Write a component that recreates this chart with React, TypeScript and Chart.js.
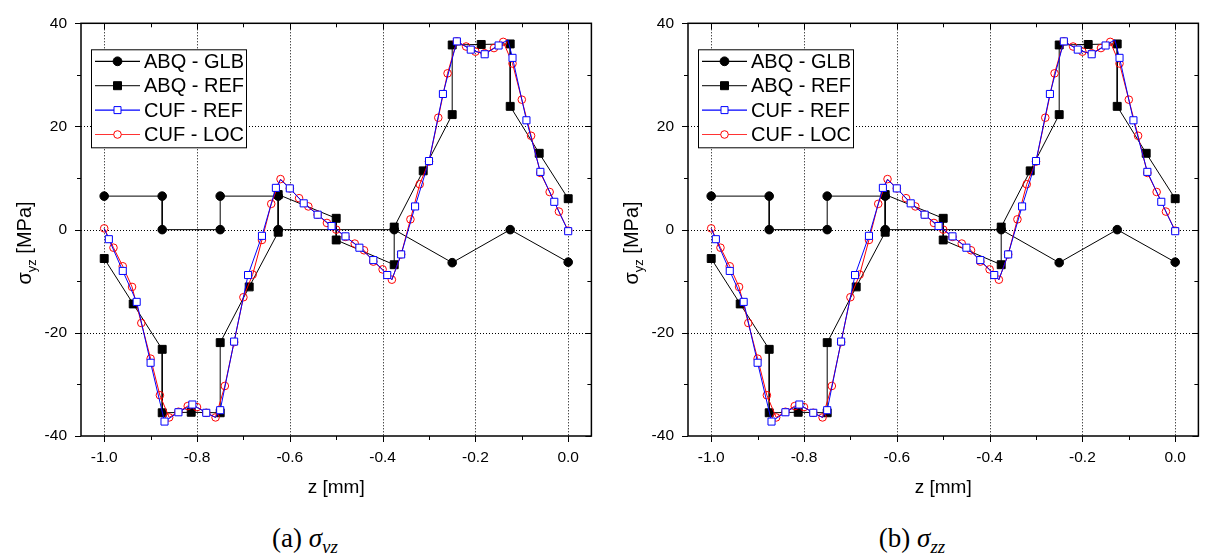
import React, { useEffect, useRef } from "react";
import { Chart, registerables } from "chart.js";

Chart.register(...registerables);

// ---------------- data ----------------
const xTicks = [-1.0, -0.8, -0.6, -0.4, -0.2, 0.0];
const xMinorTicks = [-0.9, -0.7, -0.5, -0.3, -0.1];
const yTicks = [-40, -20, 0, 20, 40];
const yMinorTicks = [-30, -10, 10, 30];

// ABQ - GLB
const zGlb = [-1.0, -0.875, -0.875, -0.75, -0.75, -0.625, -0.625, -0.375, -0.25, -0.125, 0.0];
const abqGlb = [6.5, 6.5, 0, 0, 6.5, 6.5, 0, 0, -6.4, 0, -6.3];

// ABQ - REF
const zRef = [-1.0, -0.9375, -0.875, -0.875, -0.8125, -0.75, -0.75, -0.6875, -0.625, -0.625, -0.5, -0.5,
  -0.375, -0.375, -0.3125, -0.25, -0.25, -0.1875, -0.125, -0.125, -0.0625, 0.0];
const abqRef = [-5.6, -14.4, -23.2, -35.5, -35.4, -35.5, -21.9, -11.1, -0.5, 6.8, 2.2, -2.0,
  -6.8, 0.5, 11.4, 22.3, 35.8, 35.9, 36.0, 23.9, 14.8, 6.0];

// CUF - REF (marked points)
const zCufRef = [-0.99, -0.96, -0.93, -0.9, -0.87, -0.84, -0.81, -0.78, -0.75, -0.72, -0.69, -0.66,
  -0.63, -0.6, -0.57, -0.54, -0.51, -0.48, -0.45, -0.42, -0.39, -0.36, -0.33, -0.3, -0.27, -0.24,
  -0.21, -0.18, -0.15, -0.12, -0.09, -0.06, -0.03, 0.0];
const cufRef = [-1.85, -8.0, -14.0, -25.8, -37.2, -35.4, -33.9, -35.5, -35.0, -21.7, -8.8, -1.2,
  8.1, 8.0, 5.1, 2.9, 0.7, -1.3, -3.5, -5.9, -8.8, -4.8, 4.5, 13.3, 26.3, 36.5,
  34.9, 34.0, 35.7, 33.3, 21.2, 11.2, 5.4, -0.3];
// CUF - REF (unmarked vertices of the same curve)
const zCufRefHidden = [-1.0, -0.76, -0.62, -0.38, -0.13];
const cufRefHidden = [0.2, -36.4, 9.7, -9.7, 36.8];

// CUF - LOC
const zCufLoc = [-1.0, -0.98, -0.96, -0.94, -0.92, -0.9, -0.88, -0.86, -0.84, -0.82, -0.8, -0.78, -0.76,
  -0.74, -0.72, -0.7, -0.68, -0.66, -0.64, -0.62, -0.6, -0.58, -0.56, -0.54, -0.52, -0.5, -0.48,
  -0.46, -0.44, -0.42, -0.4, -0.38, -0.36, -0.34, -0.32, -0.3, -0.28, -0.26, -0.24, -0.22, -0.2,
  -0.18, -0.16, -0.14, -0.12, -0.1, -0.08, -0.06, -0.04, -0.02, 0.0];
const cufLoc = [0.25, -3.5, -7.1, -11.1, -18.1, -25.0, -32.1, -36.4, -35.3, -34.2, -34.4, -35.5, -36.4,
  -30.3, -21.8, -13.1, -8.7, -2.0, 5.0, 9.8, 8.0, 6.1, 4.5, 2.9, 1.3, 0.0, -1.4,
  -2.7, -4.0, -6.2, -7.7, -9.7, -4.8, 2.0, 8.8, 13.2, 21.7, 30.3, 36.5, 35.5, 34.5,
  34.2, 35.2, 36.4, 32.2, 25.2, 18.2, 11.0, 7.3, 3.5, -0.2];

// ---------------- styling ----------------
const SANS = "'Liberation Sans', Arial, sans-serif";
const SERIF = "'Liberation Serif', 'Times New Roman', serif";

const zip = (xs: number[], ys: number[]) => xs.map((x, i) => ({ x, y: ys[i] }));

function blueData() {
  const pts = [
    ...zCufRef.map((x, i) => ({ x, y: cufRef[i], m: true })),
    ...zCufRefHidden.map((x, i) => ({ x, y: cufRefHidden[i], m: false })),
  ];
  pts.sort((a, b) => a.x - b.x);
  return pts;
}

const legendItems = [
  { label: "ABQ - GLB", line: "#000", shape: "circle", fill: "#000", stroke: "#000", r: 4.4 },
  { label: "ABQ - REF", line: "#333", shape: "square", fill: "#000", stroke: "#000", r: 4 },
  { label: "CUF - REF", line: "#0000ff", shape: "square", fill: "#fff", stroke: "#0000ff", r: 3.5 },
  { label: "CUF - LOC", line: "#ff3333", shape: "circle", fill: "#fff", stroke: "#ff0000", r: 3.8 },
];

function drawMarker(ctx: CanvasRenderingContext2D, shape: string, x: number, y: number, r: number, fill: string, stroke: string) {
  ctx.save();
  ctx.beginPath();
  if (shape === "circle") ctx.arc(x, y, r, 0, Math.PI * 2);
  else ctx.rect(x - r, y - r, 2 * r, 2 * r);
  ctx.fillStyle = fill;
  ctx.fill();
  ctx.lineWidth = 1;
  ctx.strokeStyle = stroke;
  ctx.stroke();
  ctx.restore();
}

const framePlugin = {
  id: "frameDecor",
  beforeDatasetsDraw(chart: any) {
    const { ctx, chartArea: a, scales } = chart;
    ctx.save();
    ctx.strokeStyle = "#000";
    ctx.lineWidth = 1;
    ctx.setLineDash([1, 2]);
    xTicks.forEach((v) => {
      const px = Math.round(scales.x.getPixelForValue(v)) + 0.5;
      ctx.beginPath();
      ctx.moveTo(px, a.top);
      ctx.lineTo(px, a.bottom);
      ctx.stroke();
    });
    yTicks.forEach((v) => {
      if (v === 40 || v === -40) return;
      const py = Math.round(scales.y.getPixelForValue(v)) + 0.5;
      ctx.beginPath();
      ctx.moveTo(a.left, py);
      ctx.lineTo(a.right, py);
      ctx.stroke();
    });
    ctx.restore();
  },
  afterDatasetsDraw(chart: any) {
    const { ctx, chartArea: a, scales } = chart;
    ctx.save();
    // frame
    ctx.strokeStyle = "#000";
    ctx.lineWidth = 1.5;
    ctx.setLineDash([]);
    ctx.strokeRect(a.left, a.top, a.right - a.left, a.bottom - a.top);
    // ticks
    ctx.lineWidth = 1;
    const majL = 6, minL = 4;
    const xt = (v: number, len: number) => {
      const px = Math.round(scales.x.getPixelForValue(v)) + 0.5;
      ctx.beginPath();
      ctx.moveTo(px, a.bottom); ctx.lineTo(px, a.bottom + len);
      ctx.moveTo(px, a.top); ctx.lineTo(px, a.top + len);
      ctx.stroke();
    };
    const yt = (v: number, len: number) => {
      const py = Math.round(scales.y.getPixelForValue(v)) + 0.5;
      ctx.beginPath();
      ctx.moveTo(a.left, py); ctx.lineTo(a.left - len, py);
      ctx.moveTo(a.right, py); ctx.lineTo(a.right - len, py);
      ctx.stroke();
    };
    xTicks.forEach((v) => xt(v, majL));
    xMinorTicks.forEach((v) => xt(v, minL));
    yTicks.forEach((v) => yt(v, majL));
    yMinorTicks.forEach((v) => yt(v, minL));

    // legend
    const bx = a.left + 10, by = a.top + 26, bw = 155, bh = 98;
    ctx.fillStyle = "#fff";
    ctx.fillRect(bx, by, bw, bh);
    ctx.lineWidth = 1;
    ctx.strokeStyle = "#000";
    ctx.strokeRect(bx + 0.5, by + 0.5, bw, bh);
    legendItems.forEach((it, i) => {
      const cy = by + 12 + i * 24.4;
      ctx.beginPath();
      ctx.strokeStyle = it.line;
      ctx.lineWidth = 1.2;
      ctx.moveTo(bx + 4, cy);
      ctx.lineTo(bx + 49, cy);
      ctx.stroke();
      drawMarker(ctx, it.shape, bx + 26.5, cy, it.r, it.fill, it.stroke);
      ctx.fillStyle = "#000";
      ctx.font = `20px ${SANS}`;
      ctx.textBaseline = "middle";
      ctx.textAlign = "left";
      ctx.fillText(it.label, bx + 53, cy + 1);
    });

    // x title
    ctx.fillStyle = "#000";
    ctx.font = `19px ${SANS}`;
    ctx.textAlign = "center";
    ctx.textBaseline = "middle";
    ctx.fillText("z [mm]", (a.left + a.right) / 2, 488);

    // y title with subscript
    ctx.save();
    ctx.translate(31, 243);
    ctx.rotate(-Math.PI / 2);
    ctx.textAlign = "left";
    ctx.textBaseline = "alphabetic";
    ctx.font = `20px ${SANS}`;
    const w1 = ctx.measureText("σ").width;
    const w3 = ctx.measureText(" [MPa]").width;
    ctx.font = `13px ${SANS}`;
    const w2 = ctx.measureText("yz").width;
    let sx = -(w1 + w2 + w3) / 2;
    ctx.font = `20px ${SANS}`;
    ctx.fillText("σ", sx, 0);
    sx += w1;
    ctx.font = `13px ${SANS}`;
    ctx.fillText("yz", sx, 5);
    sx += w2;
    ctx.font = `20px ${SANS}`;
    ctx.fillText(" [MPa]", sx, 0);
    ctx.restore();

    ctx.restore();
  },
};

function makeConfig(): any {
  return {
    type: "scatter",
    data: {
      datasets: [
        {
          label: "CUF - REF",
          data: blueData(),
          showLine: true,
          borderColor: "#0000ff",
          borderWidth: 1,
          pointStyle: "rect",
          pointRadius: (c: any) => (c.raw && c.raw.m ? 5 : 0),
          pointBackgroundColor: "#ffffff",
          pointBorderColor: "#0000ff",
          pointBorderWidth: 1,
        },
        {
          label: "CUF - LOC",
          data: zip(zCufLoc, cufLoc),
          showLine: true,
          borderColor: "#ff0000",
          borderWidth: 1,
          pointStyle: "circle",
          pointRadius: 3.8,
          pointBackgroundColor: "rgba(255,255,255,0)",
          pointBorderColor: "#ff0000",
          pointBorderWidth: 1,
        },
        {
          label: "ABQ - REF",
          data: zip(zRef, abqRef),
          showLine: true,
          borderColor: "#000",
          borderWidth: 1,
          pointStyle: "rect",
          pointRadius: 5.6,
          pointBackgroundColor: "#000",
          pointBorderColor: "#000",
          pointBorderWidth: 1,
        },
        {
          label: "ABQ - GLB",
          data: zip(zGlb, abqGlb),
          showLine: true,
          borderColor: "#000",
          borderWidth: 1,
          pointStyle: "circle",
          pointRadius: 4.3,
          pointBackgroundColor: "#000",
          pointBorderColor: "#000",
          pointBorderWidth: 1,
        },
      ],
    },
    options: {
      responsive: false,
      animation: false,
      events: [],
      devicePixelRatio: 1,
      layout: { padding: { left: 0, right: 3, top: 17, bottom: 0 } },
      plugins: { legend: { display: false }, tooltip: { enabled: false }, title: { display: false } },
      scales: {
        x: {
          type: "linear",
          min: -1.05,
          max: 0.05,
          afterBuildTicks: (s: any) => { s.ticks = xTicks.map((v) => ({ value: v })); },
          afterFit: (s: any) => { s.height = 64; },
          grid: { display: false, drawTicks: false },
          border: { display: false },
          ticks: {
            callback: (v: any) => Number(v).toFixed(1),
            font: { family: SANS, size: 15.5 },
            color: "#000",
            padding: 12,
            autoSkip: false,
            maxRotation: 0,
          },
        },
        y: {
          type: "linear",
          min: -40,
          max: 40,
          afterBuildTicks: (s: any) => { s.ticks = yTicks.map((v) => ({ value: v })); },
          afterFit: (s: any) => { s.width = 81; },
          grid: { display: false, drawTicks: false },
          border: { display: false },
          ticks: {
            callback: (v: any) => String(v),
            font: { family: SANS, size: 15.5 },
            color: "#000",
            padding: 14,
            autoSkip: false,
          },
        },
      },
    },
    plugins: [framePlugin],
  };
}

function Panel({ left, letter, sub }: { left: number; letter: string; sub: string }) {
  const ref = useRef<HTMLCanvasElement | null>(null);
  useEffect(() => {
    if (!ref.current) return;
    const chart = new Chart(ref.current, makeConfig());
    return () => chart.destroy();
  }, []);
  return (
    <>
      <canvas
        ref={ref}
        width={598}
        height={500}
        style={{ position: "absolute", left, top: 0, width: 598, height: 500 }}
      />
      <div
        style={{
          position: "absolute",
          left: left + 205,
          top: 525,
          width: 200,
          textAlign: "center",
          fontFamily: SERIF,
          fontSize: 27,
          lineHeight: "27px",
          color: "#000",
          whiteSpace: "nowrap",
        }}
      >
        ({letter}) <span style={{ fontStyle: "italic" }}>σ</span>
        <span style={{ fontStyle: "italic", fontSize: 19, position: "relative", top: 6 }}>{sub}</span>
      </div>
    </>
  );
}

export default function App() {
  return (
    <div style={{ position: "absolute", left: 0, top: 0, width: 1205, height: 553, overflow: "hidden", background: "#fff" }}>
      <Panel left={0} letter="a" sub="yz" />
      <Panel left={607} letter="b" sub="zz" />
    </div>
  );
}
